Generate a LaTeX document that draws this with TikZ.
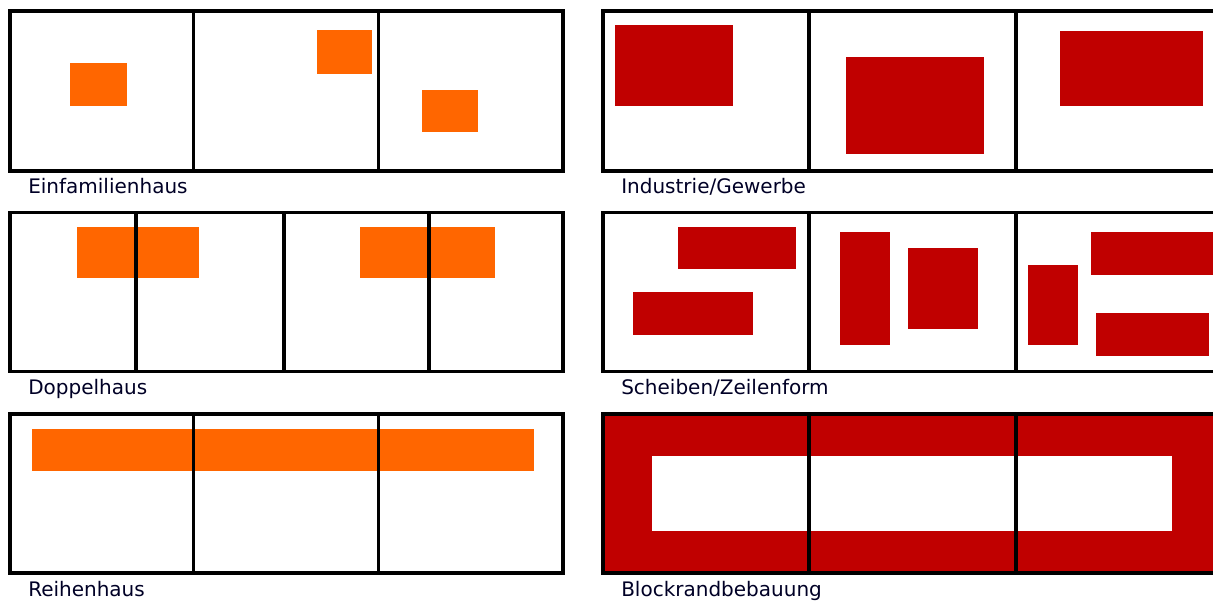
\documentclass[tikz,border=0pt]{standalone}
\usepackage{fontspec}
\setmainfont{DejaVu Sans}
\usepackage{tikz}
\definecolor{hausorange}{HTML}{FF6600}
\definecolor{gewerberot}{HTML}{C00000}

\begin{document}
\begin{tikzpicture}[x=0.75pt, y=-0.75pt,
  parcel/.style={draw=black, line width=2.5pt},
  house/.style={fill=hausorange},
  hall/.style={fill=gewerberot},
  caption/.style={anchor=base west, inner sep=0pt,
                  font=\fontsize{15}{17}\selectfont, text=black!85!blue},
]
\clip (0,0) rectangle (1213,604);
\fill[white] (0,0) rectangle (1213,604);

% Einfamilienhaus
\fill[house] (70,63) rectangle (127,106);
\fill[house] (317,30) rectangle (372,74);
\fill[house] (422,90) rectangle (478,132);
\draw[parcel] (10,11) rectangle (563,171);
\draw[parcel] (193.5,11) -- (193.5,171);
\draw[parcel] (378.5,11) -- (378.5,171);
\node[caption] (efh) at (28,193) {Einfamilienhaus};

% Industrie/Gewerbe
\fill[hall] (615,25) rectangle (733,106);
\fill[hall] (846,57) rectangle (984,154);
\fill[hall] (1060,31) rectangle (1203,106);
\draw[parcel] (603,11) rectangle (1224,171);
\draw[parcel] (809,11) -- (809,171);
\draw[parcel] (1016,11) -- (1016,171);
\node[caption] (ind) at (621,193) {Industrie/Gewerbe};

% Doppelhaus
\fill[house] (77,227) rectangle (199,278);
\fill[house] (360,227) rectangle (495,278);
\draw[parcel] (10,212.5) rectangle (563,371.5);
\draw[parcel] (136,212.5) -- (136,371.5);
\draw[parcel] (284,212.5) -- (284,371.5);
\draw[parcel] (429,212.5) -- (429,371.5);
\node[caption] (dh) at (28,394.5) {Doppelhaus};

% Scheiben/Zeilenform
\fill[hall] (678,227) rectangle (796,269);
\fill[hall] (633,292) rectangle (753,335);
\fill[hall] (840,232) rectangle (890,345);
\fill[hall] (908,248) rectangle (978,329);
\fill[hall] (1028,265) rectangle (1078,345);
\fill[hall] (1091,232) rectangle (1230,275);
\fill[hall] (1096,313) rectangle (1209,356);
\draw[parcel] (603,212.5) rectangle (1224,371.5);
\draw[parcel] (809,212.5) -- (809,371.5);
\draw[parcel] (1016,212.5) -- (1016,371.5);
\node[caption] (zf) at (621,394.5) {Scheiben/Zeilenform};

% Reihenhaus
\fill[house] (32,429) rectangle (534,471);
\draw[parcel] (10,414) rectangle (563,573);
\draw[parcel] (193.5,414) -- (193.5,573);
\draw[parcel] (378.5,414) -- (378.5,573);
\node[caption] (rh) at (28,596) {Reihenhaus};

% Blockrandbebauung
\fill[hall] (603,414) rectangle (1224,573);
\fill[white] (652,456) rectangle (1172,531);
\draw[parcel] (603,414) rectangle (1224,573);
\draw[parcel] (809,414) -- (809,573);
\draw[parcel] (1016,414) -- (1016,573);
\node[caption] (brb) at (621,596) {Blockrandbebauung};
\end{tikzpicture}
\end{document}
